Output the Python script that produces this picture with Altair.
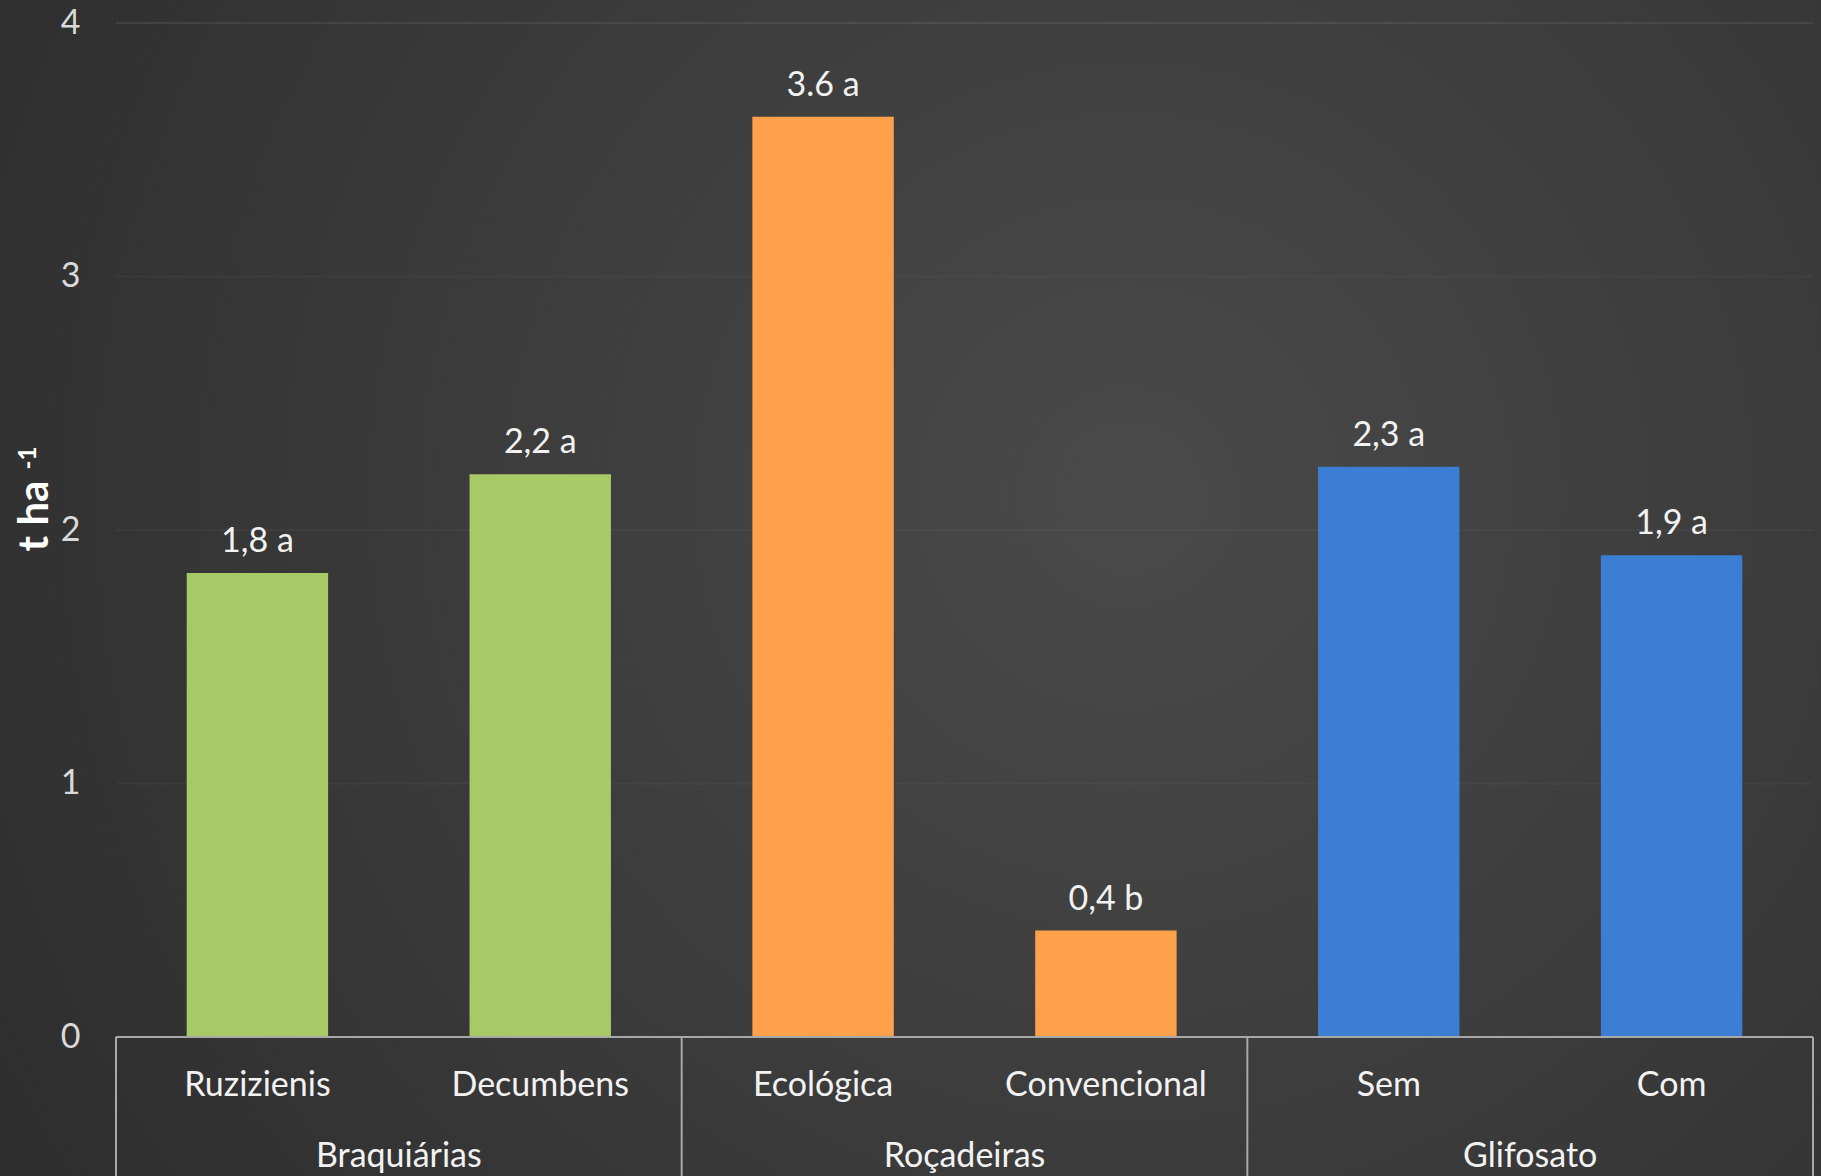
import altair as alt
import pandas as pd

categories = ["Ruzizienis", "Decumbens", "Ecológica", "Convencional", "Sem", "Com"]
groups = ["Braquiárias", "Braquiárias", "Roçadeiras", "Roçadeiras", "Glifosato", "Glifosato"]
values = [1.83, 2.22, 3.63, 0.42, 2.25, 1.90]
value_labels = ["1,8 a", "2,2 a", "3.6 a", "0,4 b", "2,3 a", "1,9 a"]
bar_colors = ["#A7C966", "#A7C966", "#FFA14B", "#FFA14B", "#3B7ED4", "#3B7ED4"]
group_names = ["Braquiárias", "Roçadeiras", "Glifosato"]
y_ticks = [0, 1, 2, 3, 4]
y_title = "t ha"
y_title_sup = "-1"

FONT = "Lato"
FS = 34
W, H = 1697, 1014
PAD_L, PAD_T, PAD_R, PAD_B = 116, 23, 8, 139

n = len(categories)
df = pd.DataFrame({
    "cat": categories, "group": groups, "value": values,
    "label": value_labels, "color": bar_colors, "i": list(range(n)),
})
df["x0"] = df["i"] + 0.25
df["x1"] = df["i"] + 0.75
df["xc"] = df["i"] + 0.5

gdf = pd.DataFrame({"group": group_names, "j": list(range(len(group_names)))})
gdf["gc"] = gdf["j"] * 2 + 1
sep = pd.DataFrame({"pos": [0, 2, 4, 6]})
grid = pd.DataFrame({"v": y_ticks[1:]})
grid["x0"] = 0
grid["x1"] = n
grid["op"] = [0.035, 0.035, 0.035, 0.08]
base = pd.DataFrame({"v": [0], "x0": [0], "x1": [n]})

xs = alt.Scale(domain=[0, n], nice=False, zero=False)
ys = alt.Scale(domain=[0, 4], nice=False)

bg_grad = {
    "gradient": "radial", "x1": 0.62, "y1": 0.45, "x2": 0.62, "y2": 0.45,
    "r1": 0, "r2": 0.75,
    "stops": [{"offset": 0, "color": "#4a4a4a"}, {"offset": 1, "color": "#2c2c2c"}],
}

bg = alt.Chart(pd.DataFrame({"a": [0]})).mark_rect(fill=bg_grad).encode(
    x=alt.value(-PAD_L), x2=alt.value(W + PAD_R),
    y=alt.value(-PAD_T), y2=alt.value(H + PAD_B),
)

gridlines = alt.Chart(grid).mark_rule(color="#ffffff", strokeWidth=2).encode(
    x=alt.X("x0:Q", scale=xs, axis=None), x2="x1:Q",
    y=alt.Y("v:Q", scale=ys, axis=alt.Axis(
        values=y_ticks, format="d", domain=False, ticks=False, grid=False, labelPadding=36,
        labelFontSize=FS, labelColor="#d9d9d9", labelFont=FONT,
        title=None, zindex=1)),
    opacity=alt.Opacity("op:Q", scale=None),
)

bars = alt.Chart(df).mark_bar().encode(
    x=alt.X("x0:Q", scale=xs, axis=None),
    x2="x1:Q",
    y=alt.Y("value:Q", scale=ys),
    y2=alt.datum(0),
    color=alt.Color("color:N", scale=None),
)

labels = alt.Chart(df).mark_text(
    dy=-21, baseline="alphabetic", fontSize=FS, color="#f2f2f2", font=FONT
).encode(x=alt.X("xc:Q", scale=xs), y=alt.Y("value:Q", scale=ys), text="label:N")

axis_line = alt.Chart(base).mark_rule(color="#a8a8a8", strokeWidth=2).encode(
    x=alt.X("x0:Q", scale=xs), x2="x1:Q", y=alt.Y("v:Q", scale=ys)
)

seps = alt.Chart(sep).mark_rule(color="#a8a8a8", strokeWidth=2).encode(
    x=alt.X("pos:Q", scale=xs), y=alt.value(H), y2=alt.value(H + PAD_B + 5)
)

sub = alt.Chart(df).mark_text(fontSize=FS, color="#f2f2f2", font=FONT, baseline="middle").encode(
    x=alt.X("xc:Q", scale=xs), y=alt.value(H + 49), text="cat:N"
)

grp = alt.Chart(gdf).mark_text(fontSize=FS, color="#f2f2f2", font=FONT, baseline="middle").encode(
    x=alt.X("gc:Q", scale=xs), y=alt.value(H + 120), text="group:N"
)

title_main = alt.Chart(pd.DataFrame({"t": [y_title]})).mark_text(
    angle=270, fontSize=42, fontWeight="bold", color="#ffffff", font=FONT,
    baseline="alphabetic", align="center"
).encode(x=alt.value(48 - PAD_L), y=alt.value(516 - PAD_T), text="t:N")

title_sup = alt.Chart(pd.DataFrame({"t": [y_title_sup]})).mark_text(
    angle=270, fontSize=24, fontWeight="bold", color="#ffffff", font=FONT,
    baseline="alphabetic", align="center"
).encode(x=alt.value(36 - PAD_L), y=alt.value(458 - PAD_T), text="t:N")

chart = alt.layer(bg, gridlines, bars, labels, axis_line, seps, sub, grp, title_main, title_sup).properties(
    width=W, height=H,
    autosize=alt.AutoSizeParams(type="none"),
    padding={"left": PAD_L, "top": PAD_T, "right": PAD_R, "bottom": PAD_B},
    background="#333333",
).configure_view(stroke=None)

chart.save("out.html", embed_options={"renderer": "svg", "actions": False})
